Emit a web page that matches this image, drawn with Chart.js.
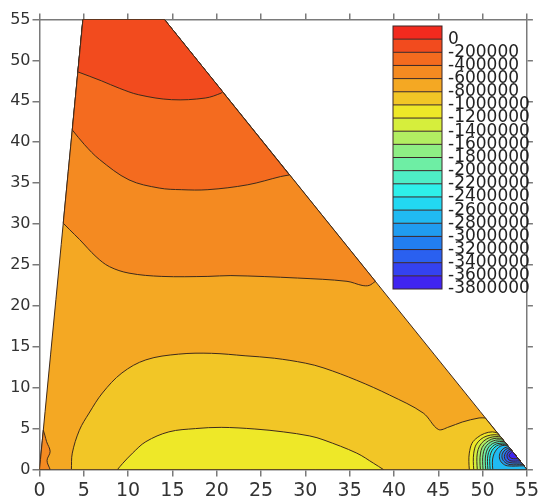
<!DOCTYPE html>
<html>
<head>
<meta charset="utf-8">
<script src="https://cdn.jsdelivr.net/npm/chart.js@4.4.1/dist/chart.umd.min.js"></script>
<style>
  html, body { margin: 0; padding: 0; background: #fff; }
  #wrap { width: 542px; height: 502px; }
</style>
</head>
<body>
<div id="wrap"><canvas id="contour"></canvas></div>
<script>
// tick labels
const xTicks = [0, 5, 10, 15, 20, 25, 30, 35, 40, 45, 50, 55];
const yTicks = [0, 5, 10, 15, 20, 25, 30, 35, 40, 45, 50, 55];

// contour levels (colour bar labels) and band colours, top to bottom
const levels = [0, -200000, -400000, -600000, -800000, -1000000, -1200000, -1400000, -1600000, -1800000,
                -2000000, -2200000, -2400000, -2600000, -2800000, -3000000, -3200000, -3400000, -3600000, -3800000];
const bandColors = ['#F22A1E', '#F24B1E', '#F46B1F', '#F48A21', '#F4A823', '#F2C626', '#EEE828', '#D6EE3C',
                    '#B2EE62', '#8EEE84', '#6EEEA4', '#4EEEC6', '#2EF0EA', '#22D8F2', '#20BAF2', '#209CF0',
                    '#227EF0', '#2A60F0', '#3442F0', '#4024F0'];

// domain (triangle cut at y = 55)
const domain = [[0, 0], [4.9, 55], [14.1, 55], [55, 0]];
const topCorners = [[14.1, 55], [4.9, 55]];
const tip = [[55, 0]];

// contour lines [x, y]
const level200 = [[4.33, 48.6], [7.0, 47.5], [9.0, 46.6], [11.2, 45.8], [14.9, 45.2], [18.7, 45.4], [20.5, 46.0], [20.65, 46.2]];
const level400 = [[3.7, 41.5], [5.08, 39.7], [6.76, 37.9], [10.1, 35.4], [13.5, 34.4], [16.0, 34.2], [19.0, 34.2],
                  [23.5, 34.8], [27.2, 35.8], [28.2, 36.0]];
const level600 = [[2.68, 30.1], [3.41, 29.3], [4.53, 28.1], [6.39, 26.0], [7.88, 24.8], [10.1, 24.0], [13.8, 23.6],
                  [19.0, 23.6], [21.6, 23.7], [29.1, 23.4], [34.7, 23.0], [36.4, 22.5], [37.2, 22.5], [37.9, 23.0]];
const level800 = [[3.6, 0], [3.7, 2.0], [4.5, 4.8], [5.6, 6.9], [7.1, 9.35], [9.3, 11.8], [12.0, 13.4], [15.7, 14.1],
                  [19.4, 14.2], [23.2, 13.9], [26.5, 13.6], [30.0, 13.0], [32.1, 12.4], [35.8, 10.9], [39.5, 9.1],
                  [43.3, 6.9], [45.0, 4.9], [46.2, 5.2], [47.7, 5.8], [49.6, 6.3], [50.3, 6.3]];
const level1000 = [[8.8, 0], [9.4, 0.76], [10.5, 2.0], [12.0, 3.4], [14.6, 4.6], [17.6, 5.0], [20.5, 5.15], [24.3, 4.95],
                   [27.5, 4.6], [30.5, 4.1], [32.1, 3.6], [35.8, 2.0], [37.7, 0.76], [38.8, 0]];
const cornerLeft = [[1.2, 0], [0.85, 1.1], [1.2, 2.2], [0.8, 3.4], [0.6, 4.2], [0.43, 4.8]];

// the low near the right corner, outer to inner (first ones end on the bottom edge, last ones are closed by the slope)
const sinkOpen = [
  [[48.5, 0], [48.45, 1.0], [48.5, 2.0], [48.8, 3.2], [49.4, 3.9], [50.2, 4.4], [51.1, 4.6], [51.69, 4.45]],
  [[49.0, 0], [48.95, 1.0], [49.0, 2.0], [49.25, 3.0], [49.8, 3.7], [50.5, 4.1], [51.3, 4.25], [51.88, 4.2]],
  [[49.4, 0], [49.35, 1.0], [49.4, 2.0], [49.65, 2.85], [50.15, 3.5], [50.8, 3.9], [51.5, 4.02], [52.03, 4.0]],
  [[49.75, 0], [49.7, 1.0], [49.75, 1.9], [49.95, 2.7], [50.4, 3.3], [51.0, 3.7], [51.6, 3.82], [52.17, 3.8]],
  [[50.05, 0], [50.0, 1.0], [50.05, 1.85], [50.25, 2.6], [50.65, 3.15], [51.2, 3.5], [51.75, 3.62], [52.32, 3.6]],
  [[50.35, 0], [50.3, 1.0], [50.35, 1.8], [50.55, 2.5], [50.9, 3.0], [51.4, 3.3], [51.9, 3.42], [52.47, 3.4]],
  [[50.6, 0], [50.55, 1.0], [50.6, 1.75], [50.8, 2.4], [51.15, 2.85], [51.6, 3.15], [52.58, 3.25]],
  [[50.85, 0], [50.8, 1.0], [50.85, 1.7], [51.05, 2.3], [51.4, 2.75], [51.8, 3.0], [52.69, 3.1]],
  [[51.15, 0], [51.1, 0.9], [51.2, 1.65], [51.45, 2.25], [51.8, 2.7], [52.2, 2.92], [52.81, 2.95]]
];
const sinkLoops = [
  [[52.92, 2.8], [52.4, 2.6], [52.0, 2.1], [51.9, 1.4], [52.2, 0.8], [52.8, 0.45], [54.67, 0.45]],
  [[53.03, 2.65], [52.6, 2.45], [52.25, 2.0], [52.2, 1.4], [52.5, 0.9], [53.1, 0.6], [54.55, 0.6]],
  [[53.14, 2.5], [52.8, 2.3], [52.5, 1.85], [52.5, 1.3], [52.8, 0.95], [53.4, 0.8], [54.4, 0.8]],
  [[53.25, 2.35], [52.95, 2.15], [52.75, 1.75], [52.85, 1.3], [53.2, 1.05], [54.22, 1.05]],
  [[53.36, 2.2], [53.15, 2.0], [53.0, 1.7], [53.15, 1.42], [53.5, 1.32], [54.02, 1.32]]
];

// corners are doubled so the spline keeps the straight edges straight
function shape(contour, edges) {
  const pts = [];
  const twice = p => { pts.push(p, p); };
  if (contour.length) {
    twice(contour[0]);
    contour.slice(1, -1).forEach(p => pts.push(p));
    twice(contour[contour.length - 1]);
  }
  edges.forEach(twice);
  twice(contour.length ? contour[0] : edges[0]);
  return pts;
}

// filled regions, bottom layer first: [points, band index]
const regions = [
  [shape([], domain), 4],
  [shape(level600, topCorners), 3],
  [shape(level400, topCorners), 2],
  [shape(level200, topCorners), 1],
  [shape(cornerLeft, [[0, 0]]), 3],
  [shape(level800, tip), 5],
  [shape(level1000, []), 6]
];
sinkOpen.forEach((c, k) => regions.push([shape(c, tip), 6 + k]));
sinkLoops.forEach((c, k) => regions.push([shape(c, []), 6 + sinkOpen.length + k]));

const lineColor = '#3e2a1c';
const axisColor = '#7a7a7a';

const datasets = regions.map((r, i) => ({
  data: r[0].map(p => ({x: p[0], y: p[1]})),
  backgroundColor: bandColors[r[1]],
  borderColor: lineColor,
  borderWidth: 1,
  fill: 'shape',
  pointRadius: 0,
  tension: 0.35,
  order: regions.length - i
}));

// 컬러바
const colorBar = {
  id: 'colorBar',
  afterDraw(chart) {
    const ctx = chart.ctx;
    const left = 393, top = 26, w = 49, h = 13.15;
    ctx.save();
    bandColors.forEach((c, i) => {
      ctx.fillStyle = c;
      ctx.fillRect(left, top + i * h, w, h);
    });
    ctx.strokeStyle = '#3a2626';
    ctx.lineWidth = 1;
    for (let i = 1; i < bandColors.length; i++) {
      ctx.beginPath();
      ctx.moveTo(left, top + i * h);
      ctx.lineTo(left + w, top + i * h);
      ctx.stroke();
    }
    ctx.strokeRect(left, top, w, h * bandColors.length);
    ctx.fillStyle = '#222';
    ctx.font = '17px "DejaVu Sans"';
    ctx.textBaseline = 'middle';
    ctx.textAlign = 'left';
    levels.forEach((v, i) => {
      ctx.fillText(String(v), left + 55, top + (i + 1) * h);
    });
    ctx.restore();
  }
};

function fixedTicks(list) {
  return function(scale) { scale.ticks = list.map(v => ({value: v})); };
}

new Chart(document.getElementById('contour'), {
  type: 'line',
  data: { datasets: datasets },
  options: {
    responsive: true,
    maintainAspectRatio: false,
    animation: false,
    layout: { padding: 0 },
    plugins: { legend: { display: false }, tooltip: { enabled: false } },
    scales: {
      x: {
        type: 'linear', position: 'bottom', min: 0, max: 55,
        afterBuildTicks: fixedTicks(xTicks),
        afterFit: s => { s.height = 32.5; },
        ticks: { autoSkip: false, maxRotation: 0, color: '#333', padding: 3, font: { family: 'DejaVu Sans', size: 19 } },
        grid: { drawOnChartArea: false, tickLength: 7, color: axisColor, lineWidth: 1.5 },
        border: { color: axisColor, width: 1.5 }
      },
      y: {
        type: 'linear', position: 'left', min: 0, max: 55,
        afterBuildTicks: fixedTicks(yTicks),
        afterFit: s => { s.width = 39.5; },
        ticks: { autoSkip: false, color: '#333', padding: 2, font: { family: 'DejaVu Sans', size: 16 } },
        grid: { drawOnChartArea: false, tickLength: 7, color: axisColor, lineWidth: 1.5 },
        border: { color: axisColor, width: 1.5 }
      },
      x2: {
        type: 'linear', position: 'top', min: 0, max: 55,
        afterBuildTicks: fixedTicks(xTicks),
        afterFit: s => { s.height = 19.5; },
        ticks: { display: false },
        grid: { drawOnChartArea: false, tickLength: 6, color: axisColor, lineWidth: 1.5 },
        border: { color: axisColor, width: 1.5 }
      },
      y2: {
        type: 'linear', position: 'right', min: 0, max: 55,
        afterBuildTicks: fixedTicks(yTicks),
        afterFit: s => { s.width = 10.3; },
        ticks: { display: false },
        grid: { drawOnChartArea: false, tickLength: 6, color: axisColor, lineWidth: 1.5 },
        border: { color: axisColor, width: 1.5 }
      }
    }
  },
  plugins: [colorBar]
});
</script>
</body>
</html>
